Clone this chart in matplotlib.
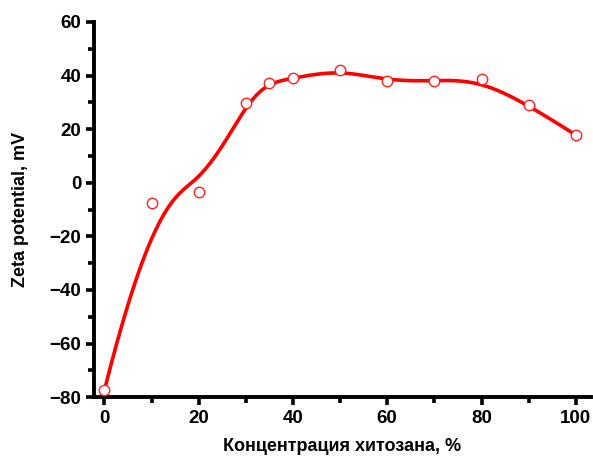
import numpy as np
import matplotlib
matplotlib.use("Agg")
import matplotlib.pyplot as plt
from matplotlib.ticker import MultipleLocator

plt.rcParams['font.family'] = ['Liberation Sans', 'DejaVu Sans']

# Chitosan concentration (%) and measured zeta potential (mV)
concentration = [0, 10, 20, 30, 35, 40, 50, 60, 70, 80, 90, 100]
zeta = [-77.5, -7.6, -3.5, 29.8, 37.4, 39.0, 42.2, 38.0, 38.0, 38.6, 29.0, 17.8]

x_ticks = [0, 20, 40, 60, 80, 100]
y_ticks = [-80, -60, -40, -20, 0, 20, 40, 60]


def bspline_curve(px, py, degree=3, n_samples=400):
    """Clamped uniform B-spline using the data points as control points."""
    px = np.asarray(px, float)
    py = np.asarray(py, float)
    n = len(px)
    k = degree
    inner = np.linspace(0, 1, n - k + 1)
    knots = np.concatenate([np.zeros(k), inner, np.ones(k)])
    t = np.linspace(0, 1, n_samples)
    t[-1] = 1 - 1e-12
    # degree-0 basis
    B = np.zeros((n_samples, len(knots) - 1))
    for i in range(len(knots) - 1):
        B[:, i] = (t >= knots[i]) & (t < knots[i + 1])
    for d in range(1, k + 1):
        Bn = np.zeros((n_samples, len(knots) - 1 - d))
        for i in range(len(knots) - 1 - d):
            left = knots[i + d] - knots[i]
            right = knots[i + d + 1] - knots[i + 1]
            term = 0
            if left > 0:
                term = term + (t - knots[i]) / left * B[:, i]
            if right > 0:
                term = term + (knots[i + d + 1] - t) / right * B[:, i + 1]
            Bn[:, i] = term
        B = Bn
    return B @ px, B @ py


cx, cy = bspline_curve(concentration, zeta)

fig = plt.figure(figsize=(5.93, 4.57), dpi=100)
ax = fig.add_axes([0.1585, 0.131, 0.838, 0.821])

ax.plot(cx, cy, color='#ff0000', lw=2.6, zorder=2, solid_capstyle='round')
ax.plot(concentration, zeta, 'o', ms=7.5, mfc='white', mec='#ff2020',
        mew=1.0, zorder=3, clip_on=False)

ax.set_xlim(-2.2, 103.2)
ax.set_ylim(-80, 60)
ax.set_xticks(x_ticks)
ax.set_yticks(y_ticks)
ax.xaxis.set_minor_locator(MultipleLocator(10))
ax.yaxis.set_minor_locator(MultipleLocator(10))

for side in ('top', 'right'):
    ax.spines[side].set_visible(False)
for side in ('left', 'bottom'):
    ax.spines[side].set_linewidth(2.8)

ax.tick_params(which='major', direction='out', length=6, width=2.6,
               labelsize=13.5, pad=3)
ax.tick_params(which='minor', direction='out', length=4, width=2.6)
for lbl in ax.get_xticklabels() + ax.get_yticklabels():
    lbl.set_fontweight('bold')

ax.set_xlabel('Концентрация хитозана, %', fontsize=13, fontweight='bold',
              labelpad=8)
ax.set_ylabel('Zeta potential, mV', fontsize=13, fontweight='bold',
              labelpad=15)

fig.savefig('out.png', dpi=100)
